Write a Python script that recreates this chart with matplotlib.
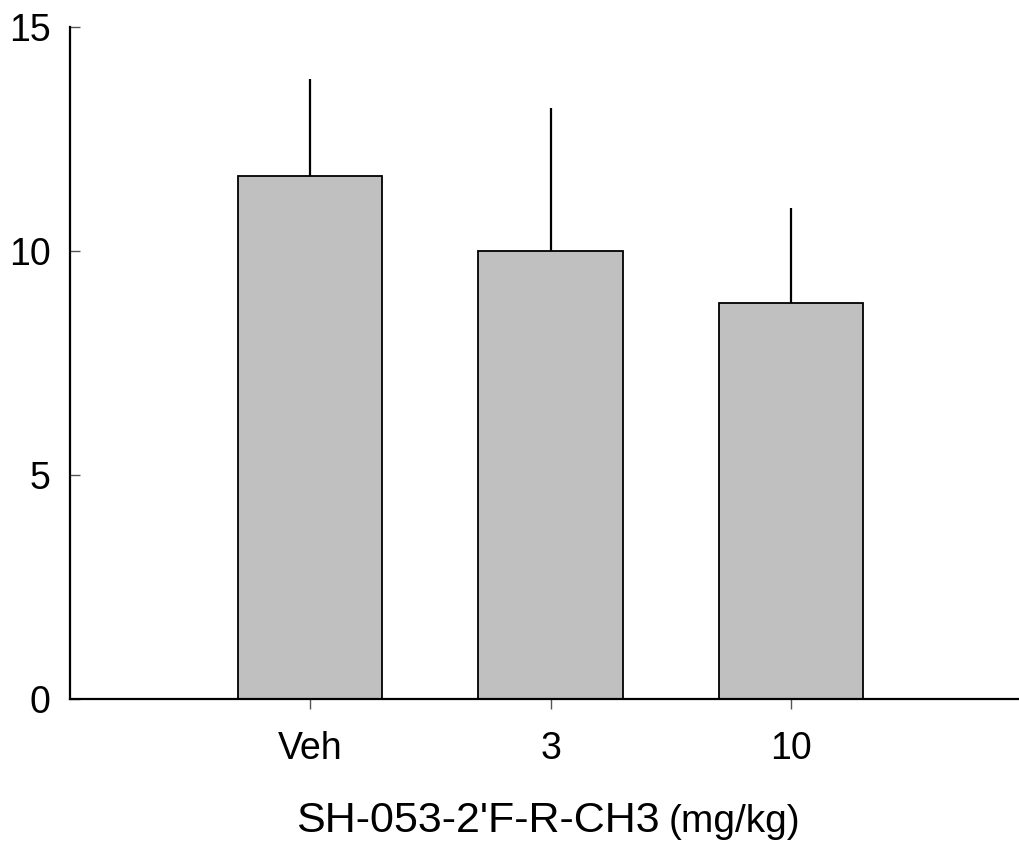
import numpy as np
import matplotlib
matplotlib.use('Agg')
import matplotlib.pyplot as plt

# data
groups = ['Veh', '3', '10']
means = [11.68, 10.0, 8.84]
sems = [2.16, 3.2, 2.12]

plt.rcParams['font.family'] = ['Liberation Sans', 'DejaVu Sans']

fig = plt.figure(figsize=(10.19, 8.42), dpi=100)
ax = fig.add_axes([70/1019, 1-699/842, 1-70/1019, (699-27)/842])

x = np.arange(len(groups))
ax.bar(x, means, width=0.6, color='#c0c0c0', edgecolor='black', linewidth=1.3, zorder=2)
ax.errorbar(x, means, yerr=[np.zeros(len(sems)), sems], fmt='none',
            ecolor='black', elinewidth=1.6, capsize=0, zorder=1)

ax.set_xlim(-1.0, 2.95)
ax.set_ylim(0, 15)
ax.set_yticks([0, 5, 10, 15])
ax.set_xticks(x)
ax.set_xticklabels(groups)

for s in ['top', 'right']:
    ax.spines[s].set_visible(False)
for s in ['left', 'bottom']:
    ax.spines[s].set_linewidth(1.6)

ax.tick_params(axis='y', direction='in', length=7, width=1, color='#555555',
               labelsize=27, pad=14)
ax.tick_params(axis='x', direction='out', length=7, width=1, color='#555555',
               labelsize=27, pad=16)

# axis title: two sizes, so two texts on one baseline
fig.text(660/1019, 1-832/842, "SH-053-2'F-R-CH3", ha='right', va='baseline', fontsize=31)
fig.text(669/1019, 1-832/842, "(mg/kg)", ha='left', va='baseline', fontsize=28)

fig.savefig('out.png', dpi=100)
